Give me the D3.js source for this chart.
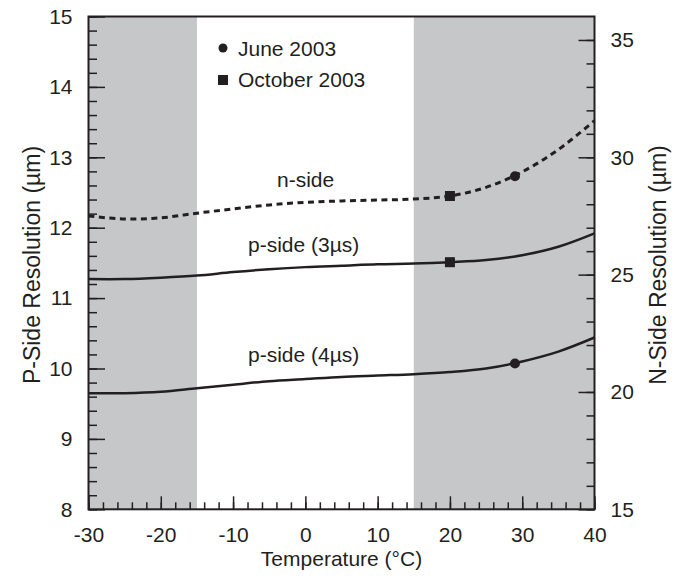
<!DOCTYPE html>
<html>
<head>
<meta charset="utf-8">
<script src="https://cdn.jsdelivr.net/npm/d3@7"></script>
<style>
  body { margin: 0; background: #fff; }
  text { font-family: "Liberation Sans", Arial, sans-serif; fill: #231f20; }
</style>
</head>
<body>
<svg id="chart"></svg>
<script>
let temps = [-30, -25, -20, -15, -10, -5, 0, 5, 10, 15, 20, 25, 30, 35, 40]
// p-side resolution (um), left axis
let pSide3 = [11.27, 11.27, 11.29, 11.32, 11.37, 11.41, 11.44, 11.46, 11.48, 11.49, 11.51, 11.54, 11.61, 11.73, 11.92]
let pSide4 = [9.65, 9.65, 9.67, 9.72, 9.77, 9.82, 9.85, 9.88, 9.90, 9.92, 9.95, 10.00, 10.10, 10.24, 10.44]
// n-side resolution (um), right axis
let nSide = [27.50, 27.37, 27.42, 27.62, 27.80, 27.97, 28.08, 28.14, 28.18, 28.22, 28.35, 28.72, 29.38, 30.33, 31.56]

// measured points
let juneT = 29
let juneP4 = 10.07
let juneN = 29.19
let octT = 20
let octP3 = 11.51
let octN = 28.35

// shaded temperature bands
let bands = [[-30, -15], [15, 40]]

let xTicks = [-30, -20, -10, 0, 10, 20, 30, 40]
let leftTicks = [8, 9, 10, 11, 12, 13, 14, 15]
let rightTicks = [15, 20, 25, 30, 35]

let svg = d3.select("#chart").attr("width", 685).attr("height", 585)

let mLeft = 88.5, mRight = 594.5, mTop = 16.5, mBottom = 509.3
let ink = "#231f20"

let x = d3.scaleLinear().domain([-30, 40]).range([mLeft, mRight])
let yP = d3.scaleLinear().domain([8, 15]).range([mBottom, mTop])
let yN = d3.scaleLinear().domain([15, 36]).range([mBottom, mTop])

// gray bands
svg.selectAll("rect.band")
    .data(bands)
    .enter()
    .append("rect")
    .attr("class", "band")
    .attr("x", d => x(d[0]))
    .attr("width", d => x(d[1]) - x(d[0]))
    .attr("y", mTop)
    .attr("height", mBottom - mTop)
    .attr("fill", "#c6c7c9")

let styleAxis = (g) => {
    g.select(".domain").remove()
    g.selectAll("line").attr("stroke", ink).attr("stroke-width", 1.5)
    g.selectAll("text").attr("font-size", 21).attr("fill", ink)
}

// bottom axis: minor + major ticks pointing inward
svg.append("g")
    .attr("transform", `translate(0,${mBottom})`)
    .call(d3.axisBottom(x).tickValues(d3.range(-30, 41, 2)).tickSize(-7).tickFormat(""))
    .call(styleAxis)
svg.append("g")
    .attr("transform", `translate(0,${mBottom})`)
    .call(d3.axisBottom(x).tickValues(xTicks).tickSize(-13).tickPadding(18).tickFormat(d3.format("d")))
    .call(styleAxis)
    .call(g => g.selectAll("text").text(d => d < 0 ? "-" + Math.abs(d) : d))

// left axis
svg.append("g")
    .attr("transform", `translate(${mLeft},0)`)
    .call(d3.axisLeft(yP).tickValues(d3.range(8, 15.01, 0.2)).tickSize(-8.5).tickFormat(""))
    .call(styleAxis)
svg.append("g")
    .attr("transform", `translate(${mLeft},0)`)
    .call(d3.axisLeft(yP).tickValues(leftTicks).tickSize(-16.5).tickPadding(16).tickFormat(d3.format("d")))
    .call(styleAxis)

// right axis
svg.append("g")
    .attr("transform", `translate(${mRight},0)`)
    .call(d3.axisRight(yN).tickValues(d3.range(15, 36, 1)).tickSize(-8).tickFormat(""))
    .call(styleAxis)
svg.append("g")
    .attr("transform", `translate(${mRight},0)`)
    .call(d3.axisRight(yN).tickValues(rightTicks).tickSize(-16).tickPadding(16).tickFormat(d3.format("d")))
    .call(styleAxis)

// frame
svg.append("rect")
    .attr("x", mLeft).attr("y", mTop)
    .attr("width", mRight - mLeft).attr("height", mBottom - mTop)
    .attr("fill", "none").attr("stroke", ink).attr("stroke-width", 2)

// curves
let lineP = d3.line().x((d, i) => x(temps[i])).y(d => yP(d)).curve(d3.curveCatmullRom)
let lineN = d3.line().x((d, i) => x(temps[i])).y(d => yN(d)).curve(d3.curveCatmullRom)

svg.append("path").datum(pSide3).attr("d", lineP)
    .attr("fill", "none").attr("stroke", ink).attr("stroke-width", 2.5)
svg.append("path").datum(pSide4).attr("d", lineP)
    .attr("fill", "none").attr("stroke", ink).attr("stroke-width", 2.5)
svg.append("path").datum(nSide).attr("d", lineN)
    .attr("fill", "none").attr("stroke", ink).attr("stroke-width", 3)
    .attr("stroke-dasharray", "6,4.5")

// markers
let sq = 10
svg.append("rect").attr("x", x(octT) - sq / 2).attr("y", yP(octP3) - sq / 2)
    .attr("width", sq).attr("height", sq).attr("fill", ink)
svg.append("rect").attr("x", x(octT) - sq / 2).attr("y", yN(octN) - sq / 2)
    .attr("width", sq).attr("height", sq).attr("fill", ink)
svg.append("circle").attr("cx", x(juneT)).attr("cy", yP(juneP4)).attr("r", 5).attr("fill", ink)
svg.append("circle").attr("cx", x(juneT)).attr("cy", yN(juneN)).attr("r", 5).attr("fill", ink)

// curve labels
let label = (tx, ty, s) => svg.append("text").attr("x", tx).attr("y", ty)
    .attr("font-size", 21).text(s)
label(277, 187, "n-side")
label(248, 252, "p-side (3\u00b5s)")
label(248, 362, "p-side (4\u00b5s)")

// legend
svg.append("circle").attr("cx", 223).attr("cy", 48).attr("r", 4.5).attr("fill", ink)
label(238, 55.5, "June 2003")
svg.append("rect").attr("x", 218).attr("y", 75).attr("width", 10).attr("height", 10).attr("fill", ink)
label(238, 87, "October 2003")

// axis titles
svg.append("text").attr("x", x(5)).attr("y", 566).attr("text-anchor", "middle")
    .attr("font-size", 21).text("Temperature (\u00b0C)")
svg.append("text").attr("transform", `translate(40,265) rotate(-90)`)
    .attr("text-anchor", "middle").attr("font-size", 23).text("P-Side Resolution (\u00b5m)")
svg.append("text").attr("transform", `translate(666,265) rotate(-90)`)
    .attr("text-anchor", "middle").attr("font-size", 23).text("N-Side Resolution (\u00b5m)")
</script>
</body>
</html>
